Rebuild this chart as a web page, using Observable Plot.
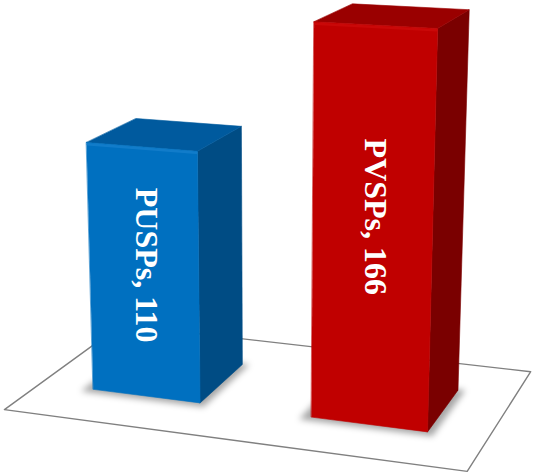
<!DOCTYPE html>
<html><head><meta charset="utf-8">
<script src="https://cdn.jsdelivr.net/npm/d3@7"></script>
<script src="https://cdn.jsdelivr.net/npm/@observablehq/plot@0.6"></script>
<style>html,body{margin:0;padding:0;background:#fff}</style>
</head><body><div id="chart"></div>
<script>
// ---- data ----
const categories = ["PUSPs", "PVSPs"];
const values = [110, 166];
const labels = ["PUSPs, 110", "PVSPs, 166"];
const frontColors = ["#0070C0", "#C00000"];
const topColors = ["#005A9E", "#9A0000"];
const sideColors = ["#004C84", "#7A0000"];
const bevelColors = ["#1580CC", "#CC0A0A"];

// ---- scene geometry (world units = value units) ----
const floorWidth = 200, floorDepth = 121, barZ0 = 35, barDepth = 52;
const band = d3.scaleBand(categories, [0, floorWidth]).paddingInner(0.5).paddingOuter(0.25);

// perspective camera
const cam = {x: 346.7, h: 276.4, z: -644.8, yaw: 19.5 * Math.PI / 180, pitch: 15.52 * Math.PI / 180, f: 1825, cx: 268, cy: 237};
const cyaw = Math.cos(cam.yaw), syaw = Math.sin(cam.yaw), cp = Math.cos(cam.pitch), sp = Math.sin(cam.pitch);
function proj(x, h, z) {
  if (z === undefined) z = barZ0;
  const px = x - cam.x, pz = z - cam.z, up = h - cam.h;
  const r = px * cyaw + pz * syaw, fw = -px * syaw + pz * cyaw;
  const zc = fw * cp - up * sp, yc = fw * sp + up * cp;
  return [cam.cx + cam.f * r / zc, cam.cy - cam.f * yc / zc];
}
const projection = d3.geoTransform({
  point(x, y, z) { const [a, b] = proj(x, y, z); this.stream.point(a, b); }
});

const poly = (pts, props) => ({type: "Feature", properties: props, geometry: {type: "Polygon", coordinates: [[...pts, pts[0]]]}});
const line = (pts, props) => ({type: "Feature", properties: props, geometry: {type: "LineString", coordinates: pts}});

const floor = poly([[0, 0, 0], [floorWidth, 0, 0], [floorWidth, 0, floorDepth], [0, 0, floorDepth]], {});

const shadows = [], faces = [], bevels = [];
categories.forEach((c, i) => {
  const x0 = band(c), x1 = x0 + band.bandwidth(), z0 = barZ0, z1 = barZ0 + barDepth, v = values[i];
  shadows.push(poly([[x0 - 4, 0, z0 - 4], [x1 + 3, 0, z0 - 4], [x1 + 3, 0, z1 + 1], [x0 - 4, 0, z1 + 1]], {}));
  faces.push(poly([[x1, 0, z0], [x1, 0, z1], [x1, v, z1], [x1, v, z0]], {fill: sideColors[i]}));
  faces.push(poly([[x0, v, z0], [x1, v, z0], [x1, v, z1], [x0, v, z1]], {fill: topColors[i]}));
  faces.push(poly([[x0, 0, z0], [x1, 0, z0], [x1, v, z0], [x0, v, z0]], {fill: frontColors[i]}));
  bevels.push(line([[x0 + 0.5, v - 0.7, z0], [x1 - 0.5, v - 0.7, z0]], {stroke: bevelColors[i]}));
});

const labelData = categories.map((c, i) => ({x: band(c) + band.bandwidth() / 2, h: values[i] * 0.535, label: labels[i]}));

const chart = Plot.plot({
  width: 536, height: 474, margin: 0,
  projection,
  marks: [
    Plot.geo([floor], {fill: "white", stroke: "#808080", strokeWidth: 1.4}),
    Plot.geo(shadows, {fill: "#000", fillOpacity: 0.35, imageFilter: "blur(3px)"}),
    Plot.geo(faces, {fill: d => d.properties.fill, stroke: d => d.properties.fill, strokeWidth: 0.6}),
    Plot.geo(bevels, {stroke: d => d.properties.stroke, strokeWidth: 2.5, strokeOpacity: 0.8}),
    Plot.text(labelData, {x: "x", y: "h", text: "label", rotate: 90, dx: 3, fill: "white", fontSize: 32, fontWeight: "bold", fontFamily: "Liberation Serif"})
  ]
});
document.getElementById("chart").appendChild(chart);
</script>
</body></html>
